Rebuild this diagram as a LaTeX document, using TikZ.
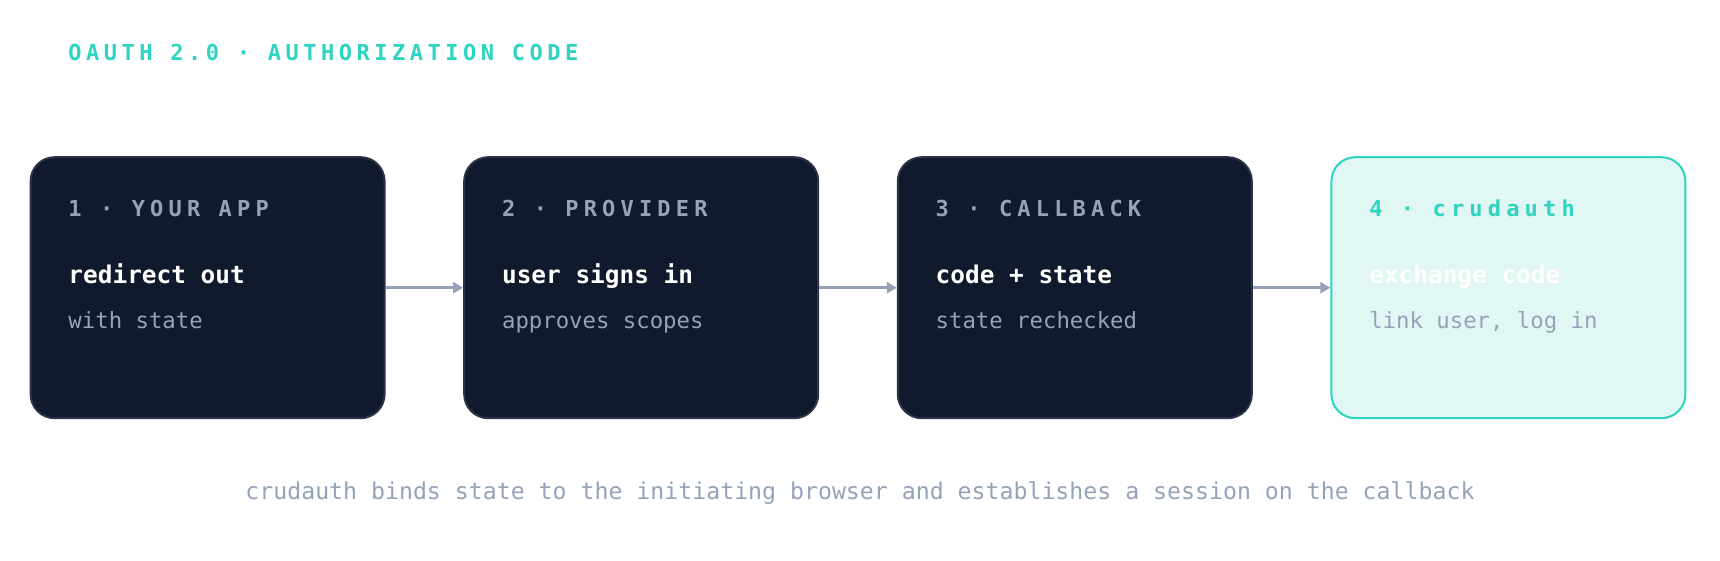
\documentclass[tikz,border=0pt]{standalone}
\usepackage{fontspec}
\usepackage{xcolor}
\usepackage{tikz}
\usetikzlibrary{positioning,arrows.meta}
\setmonofont{DejaVu Sans Mono}
\newfontfamily\titlefont{DejaVu Sans Mono}[LetterSpace=20.5]
\newfontfamily\trackfont{DejaVu Sans Mono}[LetterSpace=23.5]
\definecolor{ink}{HTML}{111A2C}
\definecolor{inkline}{HTML}{2A3446}
\definecolor{slate}{HTML}{94A3B8}
\definecolor{teal}{HTML}{2DD4BF}
\definecolor{mint}{HTML}{E1F7F3}

\begin{document}
\begin{tikzpicture}[x=0.5pt, y=-0.5pt,
  card/.style={draw=inkline, fill=ink, line width=1pt, rounded corners=12pt,
               minimum width=177pt, minimum height=130.5pt, inner sep=0pt},
  lastcard/.style={card, draw=teal, fill=mint},
  stagelabel/.style={anchor=base west, inner sep=0pt, font=\trackfont\fontsize{11}{13}\selectfont\bfseries, text=slate},
  head/.style={anchor=base west, inner sep=0pt, font=\ttfamily\fontsize{12.2}{14}\selectfont\bfseries, text=white},
  sub/.style={anchor=base west, inner sep=0pt, font=\ttfamily\fontsize{11.15}{14}\selectfont, text=slate},
  arr/.style={-{Triangle[length=5pt, width=5.5pt]}, line width=1.4pt, draw=slate}]
\useasboundingbox (0,0) rectangle (1720,561);
\node[anchor=base west, inner sep=0pt, font=\titlefont\fontsize{11}{13}\selectfont\bfseries, text=teal] (title) at (68,61) {OAUTH 2.0 · AUTHORIZATION CODE};
% the four stages
\node[card] (app) at (207.6,287.7) {};
\node[card, right=38.8pt of app] (prov) {};
\node[card, right=38.8pt of prov] (cb) {};
\node[lastcard, right=38.8pt of cb] (crud) {};
\node[stagelabel] (appT) at ([shift={(38.5,60)}]app.north west) {1 · YOUR APP};
\node[head] (appH) at ([shift={(38.5,127)}]app.north west) {redirect out};
\node[sub] (appS) at ([shift={(38.5,172)}]app.north west) {with state};
\node[stagelabel] (provT) at ([shift={(38.5,60)}]prov.north west) {2 · PROVIDER};
\node[head] (provH) at ([shift={(38.5,127)}]prov.north west) {user signs in};
\node[sub] (provS) at ([shift={(38.5,172)}]prov.north west) {approves scopes};
\node[stagelabel] (cbT) at ([shift={(38.5,60)}]cb.north west) {3 · CALLBACK};
\node[head] (cbH) at ([shift={(38.5,127)}]cb.north west) {code + state};
\node[sub] (cbS) at ([shift={(38.5,172)}]cb.north west) {state rechecked};
\node[stagelabel, text=teal] (crudT) at ([shift={(38.5,60)}]crud.north west) {4 · crudauth};
\node[head] (crudH) at ([shift={(38.5,127)}]crud.north west) {exchange code};
\node[sub] (crudS) at ([shift={(38.5,172)}]crud.north west) {link user, log in};
\draw[arr] (app)--(prov); \draw[arr] (prov)--(cb); \draw[arr] (cb)--(crud);
\node[anchor=base, inner sep=0pt, font=\ttfamily\fontsize{11.6}{14}\selectfont, text=slate] (note) at (860,499)
  {crudauth binds state to the initiating browser and establishes a session on the callback};
\end{tikzpicture}
\end{document}
